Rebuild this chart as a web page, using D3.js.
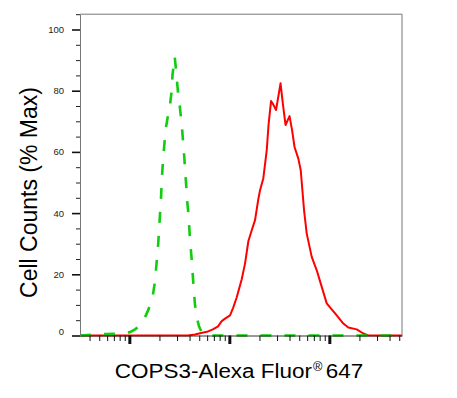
<!DOCTYPE html>
<html>
<head>
<meta charset="utf-8">
<script src="https://cdn.jsdelivr.net/npm/d3@7"></script>
<style>
  html, body { margin: 0; padding: 0; background: #fff; }
  svg { display: block; }
  text { font-family: Arial, "Liberation Sans", sans-serif; }
</style>
</head>
<body>
<svg id="chart" width="457" height="398"></svg>
<script>
// ---- data ----
// Isotype control (green, dashed): fluorescence intensity and % max
const controlIntensity = [32.1, 57.1, 75.3, 86.5, 101.6, 114, 128, 140, 154, 167, 173, 181, 188, 194, 198, 203, 207, 211, 215, 219, 225, 230, 242, 255, 264, 270, 284,
  293, 302, 310, 321, 329, 339, 347, 355, 361, 369, 378, 389, 405, 421, 437, 454, 472, 498, 530, 594, 53300];
const controlCounts = [0, 0.5, 0.6, 0.7, 1.1, 2.0, 3.3, 5.2, 8.2, 11.5, 13.7, 18.0, 24.5, 29.5, 34.4, 40.0, 44.2, 50.7, 55.0, 58.9, 63.2, 67.1, 71.4, 75.3, 79.5, 85.1, 91.1,
  86.8, 81.8, 77.9, 74.3, 71.0, 66.4, 62.2, 57.9, 54.0, 49.8, 44.2, 40.0, 31.1, 24.5, 16.8, 9.8, 6.0, 2.9, 1.1, 0, 0];

// COPS3 stained sample (red, solid)
const sampleIntensity = [32.1, 386, 454, 509, 598, 692, 771, 839, 906, 1016, 1096, 1186, 1330, 1435, 1549, 1675, 1807, 1950, 2028, 2188, 2366, 2466, 2612, 2735, 2931,
  3251, 3443, 3648, 4000, 4236, 4487, 4898, 5176, 5585, 5943, 6668, 7482, 8395, 9419, 10160, 11860, 13800, 15490, 18790, 21880, 24550, 53300];
const sampleCounts = [0, 0, 0.3, 0.75, 1.2, 2.1, 3.0, 4.7, 5.5, 6.6, 9.2, 12.5, 18.4, 23.5, 30.8, 34.4, 37.7, 44.6, 47.5, 51.4, 60.6, 68.8, 76.6, 75.6, 73.7,
  82.4, 75.3, 68.8, 71.7, 67.2, 61.6, 57.8, 54.0, 41.0, 33.3, 25.7, 21.3, 15.9, 10.5, 9.2, 6.6, 3.9, 2.6, 2.0, 0.65, 0, 0];

const xDomain = [32.1, 53300];
const yDomain = [0, 105];
const yMajorTicks = [0, 20, 40, 60, 80, 100];
const yMinorTicks = [5, 10, 15, 25, 30, 35, 45, 50, 55, 65, 70, 75, 85, 90, 95, 105];
const xDecades = [10, 100, 1000, 10000];
const xMultipliers = [1, 2, 3, 4, 5, 6, 7, 8, 9];

const xLabel = "COPS3-Alexa Fluor";
const xLabelMark = "®";
const xLabelTail = "647";
const yLabel = "Cell Counts (% Max)";

// ---- drawing ----
const svg = d3.select("#chart");
const mLeft = 80, mRight = 402, mTop = 14.2, mBottom = 335.5;

const x = d3.scaleLog().domain(xDomain).range([mLeft, mRight]);
const y = d3.scaleLinear().domain(yDomain).range([mBottom, mTop]);

const xAll = [];
xDecades.forEach(d => xMultipliers.forEach(m => {
  const v = d * m;
  if (v >= xDomain[0] && v <= xDomain[1]) xAll.push({ v, major: m === 1 });
}));
const xMajor = xAll.filter(t => t.major).map(t => t.v);
const xMinor = xAll.filter(t => !t.major).map(t => t.v);

// curves
const line = d3.line().x(d => x(d[0])).y(d => y(d[1]));

svg.append("path")
  .datum(d3.zip(sampleIntensity, sampleCounts))
  .attr("d", line)
  .attr("fill", "none")
  .attr("stroke", "#ff0000")
  .attr("stroke-width", 2)
  .attr("stroke-linejoin", "round");

svg.append("path")
  .datum(d3.zip(controlIntensity, controlCounts))
  .attr("d", line)
  .attr("fill", "none")
  .attr("stroke", "#11cc11")
  .attr("stroke-width", 2.6)
  .attr("stroke-dasharray", "11,13");

// frame
svg.append("path")
  .attr("d", `M${mLeft},${mTop}H${mRight}V${mBottom}`)
  .attr("fill", "none")
  .attr("stroke", "#777")
  .attr("stroke-width", 1);

// x axis
const gxMinor = svg.append("g").attr("transform", `translate(0,${mBottom})`)
  .call(d3.axisBottom(x).tickValues(xMinor).tickSize(5.5).tickSizeOuter(0).tickFormat(""));
const gxMajor = svg.append("g").attr("transform", `translate(0,${mBottom})`)
  .call(d3.axisBottom(x).tickValues(xMajor).tickSize(8.5).tickSizeOuter(0).tickFormat(""));
gxMinor.select(".domain").attr("stroke", "#333");
gxMajor.select(".domain").remove();
gxMinor.selectAll(".tick line").attr("stroke", "#111").attr("stroke-width", 1);
gxMajor.selectAll(".tick line").attr("stroke", "#111").attr("stroke-width", 3);

// y axis
const gyMinor = svg.append("g").attr("transform", `translate(${mLeft},0)`)
  .call(d3.axisLeft(y).tickValues(yMinorTicks).tickSize(4).tickSizeOuter(0).tickFormat(""));
const gyMajor = svg.append("g").attr("transform", `translate(${mLeft},0)`)
  .call(d3.axisLeft(y).tickValues(yMajorTicks).tickSize(8).tickSizeOuter(0).tickPadding(8));
gyMinor.select(".domain").attr("stroke", "#777");
gyMajor.select(".domain").remove();
gyMinor.selectAll(".tick line").attr("stroke", "#222");
gyMajor.selectAll(".tick line").attr("stroke", "#111").attr("stroke-width", 1.6);
gyMajor.selectAll(".tick text")
  .attr("font-size", 9.5)
  .attr("font-family", "Arial, 'Liberation Sans', sans-serif")
  .attr("fill", "#222")
  .attr("dy", d => d === 0 ? "-0.1em" : "0.32em");

// axis titles
svg.append("text")
  .attr("transform", "translate(37,192.5) rotate(-90)")
  .attr("text-anchor", "middle")
  .attr("font-size", 23)
  .attr("fill", "#000")
  .text(yLabel);

const xt = svg.append("text")
  .attr("transform", "translate(239,378.3) scale(1.07,1)")
  .attr("text-anchor", "middle")
  .attr("font-size", 21)
  .attr("fill", "#000");
xt.append("tspan").text(xLabel);
xt.append("tspan").attr("font-size", 12).attr("dy", -7).attr("dx", 1).text(xLabelMark);
xt.append("tspan").attr("dy", 7).attr("dx", 3).text(xLabelTail);
</script>
</body>
</html>
